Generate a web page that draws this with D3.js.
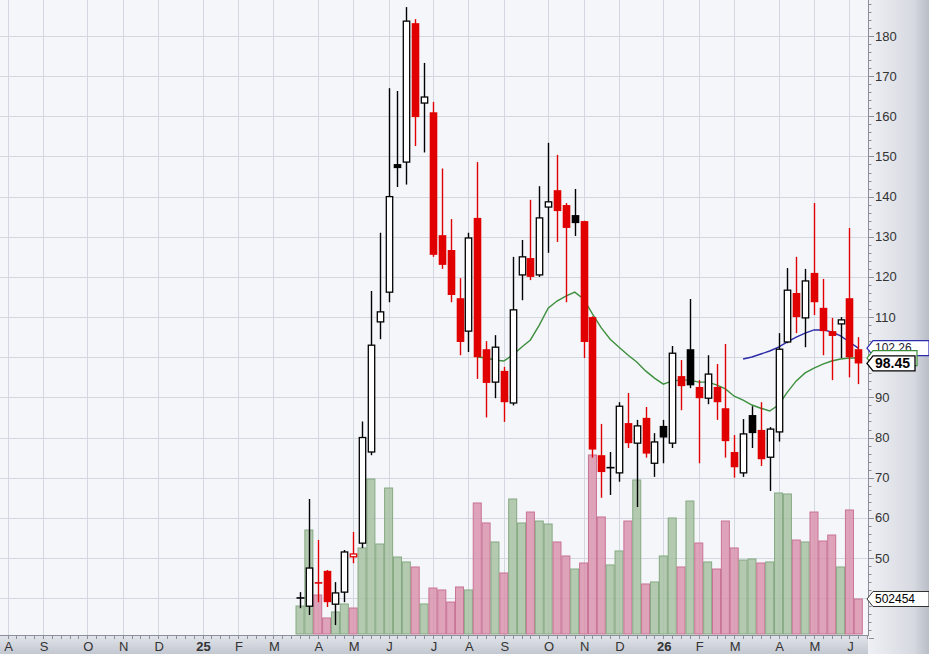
<!DOCTYPE html>
<html><head><meta charset="utf-8">
<script src="https://cdn.jsdelivr.net/npm/d3@7"></script>
<style>
body{margin:0;background:#fff}
svg{display:block}
text{font-family:Arial,"Liberation Sans",sans-serif}
</style>
</head><body>
<svg id="c" width="929" height="654"></svg>
<script>
// ---------- DATA ----------
const weeks = ["2025-03-24","2025-03-31","2025-04-07","2025-04-14","2025-04-21","2025-04-28",
"2025-05-05","2025-05-12","2025-05-19","2025-05-26","2025-06-02","2025-06-09","2025-06-16","2025-06-23","2025-06-30",
"2025-07-07","2025-07-14","2025-07-21","2025-07-28","2025-08-04","2025-08-11","2025-08-18","2025-08-25",
"2025-09-01","2025-09-08","2025-09-15","2025-09-22","2025-09-29","2025-10-06","2025-10-13","2025-10-20","2025-10-27",
"2025-11-03","2025-11-10","2025-11-17","2025-11-24","2025-12-01","2025-12-08","2025-12-15","2025-12-22","2025-12-29",
"2026-01-05","2026-01-12","2026-01-19","2026-01-26","2026-02-02","2026-02-09","2026-02-16","2026-02-23",
"2026-03-02","2026-03-09","2026-03-16","2026-03-23","2026-03-30","2026-04-06","2026-04-13","2026-04-20","2026-04-27",
"2026-05-04","2026-05-11","2026-05-18","2026-05-25","2026-06-01","2026-06-08"];
const open  = [40.0,38.0,44.0,46.8,38.5,41.5,50.3,53.7,76.4,108.8,116.2,148.1,148.6,183.2,163.3,161.0,130.4,126.7,114.7,106.5,
134.7,102.0,93.8,96.6,88.6,120.5,124.7,120.5,137.4,141.6,137.9,135.4,133.9,110.0,75.6,72.4,71.2,83.6,78.6,84.9,
73.6,82.9,78.6,95.3,102.0,92.6,89.8,92.6,87.3,76.4,71.2,85.6,81.9,75.1,81.4,103.8,116.0,109.8,121.0,112.3,
106.5,108.3,114.7,102.0];
const high  = [41.5,64.7,54.5,47.0,44.0,52.0,56.5,84.0,116.5,131.0,167.0,166.3,187.2,184.2,173.3,163.6,147.0,134.4,119.7,131.0,
148.6,104.0,105.5,97.6,125.0,129.2,139.2,142.6,153.4,150.4,138.4,141.9,134.0,110.2,83.4,76.4,88.8,91.1,84.4,87.6,
81.1,84.4,102.8,99.3,114.5,94.3,100.5,98.3,103.3,80.6,84.6,87.8,88.8,82.6,106.0,122.2,125.0,122.0,138.4,119.5,
109.8,110.0,132.2,105.0];
const low   = [37.5,35.8,39.0,37.8,33.3,39.0,48.7,52.5,75.6,104.5,113.7,142.4,143.0,152.6,151.0,125.0,122.0,113.7,100.5,101.3,
94.6,85.0,89.8,83.9,88.0,114.2,119.2,120.0,126.0,128.7,113.7,130.2,99.8,75.0,65.0,65.7,69.0,77.4,62.7,75.0,
70.2,73.6,77.4,86.8,92.3,73.6,88.3,84.4,75.0,70.0,70.2,77.4,72.9,66.7,79.0,103.5,106.0,102.5,110.5,100.5,
94.3,99.8,95.0,93.3];
const close = [40.1,47.5,43.6,39.0,41.3,51.5,51.0,80.0,103.0,111.3,140.0,147.1,183.7,159.8,164.8,125.5,123.0,115.5,103.8,129.7,
100.0,93.6,102.5,88.8,111.8,125.0,120.0,134.7,138.7,136.4,132.2,133.4,103.8,77.0,71.4,72.6,87.8,78.6,82.9,76.0,
78.9,80.0,101.0,92.8,93.0,89.8,95.8,88.8,79.1,72.6,80.9,81.1,74.6,82.1,102.0,116.7,110.0,119.0,113.7,106.5,
105.3,109.3,100.0,98.45];
const volume = [402000,1493000,560000,230000,316000,431000,373000,1235000,2225000,1292000,2096000,1105000,1034000,962000,431000,
660000,632000,459000,675000,632000,1881000,1594000,1321000,876000,1938000,1594000,1751000,1622000,1579000,1321000,
1120000,933000,1019000,2570000,1680000,991000,1192000,1622000,2211000,718000,747000,1120000,1665000,962000,1909000,
1306000,1034000,933000,1622000,1235000,1062000,1077000,1019000,1034000,2024000,2010000,1349000,1321000,1751000,1335000,
1421000,962000,1780000,502454];
// moving averages (green starts at week 21, blue at week 51)
const maGreen = [100.05,99.8,99.3,99.05,100.55,102.5,104.3,108.0,112.2,114.0,115.2,116.2,114.5,110.8,107.3,104.5,102.5,100.55,
98.8,96.6,94.8,93.3,94.1,94.3,94.3,93.8,93.8,93.1,92.1,90.3,89.3,88.1,87.3,86.6,88.1,91.3,94.1,96.1,97.3,98.3,99.05,99.55,99.8,99.8];
const maBlue = [99.55,100.05,100.8,101.55,102.5,103.8,105.0,106.0,106.8,106.8,106.3,105.3,103.8,102.26];
const greenStart = 20, blueStart = 50;
const monthLabels = ["A","S","O","N","D","25","F","M","A","M","J","J","A","S","O","N","D","26","F","M","A","M","J"];
const priceTicks = [50,60,70,80,90,100,110,120,130,140,150,160,170,180];
const lastClose = 98.45, lastGreen = 99.8, lastBlue = 102.26, lastVolume = 502454;

// ---------- LAYOUT ----------
const W = 929, H = 654, plotR = 868, plotB = 635;
const svg = d3.select("#c");
const parse = d3.timeParse("%Y-%m-%d");
const dates = weeks.map(parse);
const x = d3.scaleTime().domain([dates[0], dates[dates.length-1]]).range([300, 858.3]);
const y = d3.scaleLinear().domain([50,180]).range([558,36]);
const yv = d3.scaleLinear().domain([0, 3000000]).range([634, 634 - 3000000/14356]);

const defs = svg.append("defs");
const gR = defs.append("linearGradient").attr("id","gr").attr("x1",0).attr("x2",1).attr("y1",0).attr("y2",0);
gR.append("stop").attr("offset",0).attr("stop-color","#eef0f4");
gR.append("stop").attr("offset",0.75).attr("stop-color","#d6d9e0");
gR.append("stop").attr("offset",1).attr("stop-color","#b9bdc6");
const gB = defs.append("linearGradient").attr("id","gb").attr("x1",0).attr("x2",0).attr("y1",0).attr("y2",1);
gB.append("stop").attr("offset",0).attr("stop-color","#e2e5eb");
gB.append("stop").attr("offset",1).attr("stop-color","#c3c7d0");

svg.append("rect").attr("x",0).attr("y",0).attr("width",plotR).attr("height",plotB).attr("fill","#f4f6fa");

// grid
const grid = svg.append("g").attr("stroke","#d3d7df").attr("stroke-width",1);
const gridVals = d3.range(40,190,10);
grid.selectAll("line.h").data(gridVals).join("line")
  .attr("x1",0).attr("x2",plotR).attr("y1",d=>Math.round(y(d))+0.5).attr("y2",d=>Math.round(y(d))+0.5);
const months = d3.timeMonth.range(new Date(2024,7,1), new Date(2026,6,1));
const monthX = months.map(m => x(d3.timeMonday.ceil(m)));
grid.selectAll("line.v").data(monthX).join("line")
  .attr("y1",0).attr("y2",plotB).attr("x1",d=>Math.round(d)+0.5).attr("x2",d=>Math.round(d)+0.5);

// volume bars
const up = close.map((c,i)=> i===0 ? true : c >= close[i-1]);
svg.append("g").selectAll("rect").data(volume).join("rect")
  .attr("x",(d,i)=>x(dates[i])-4)
  .attr("width",8)
  .attr("y",d=>yv(d))
  .attr("height",d=>yv(0)-yv(d))
  .attr("fill",(d,i)=>up[i] ? "#a2bf9d" : "#d98fa9")
  .attr("fill-opacity",0.8)
  .attr("stroke",(d,i)=>up[i] ? "#86a982" : "#c87394")
  .attr("stroke-width",1);

// moving averages
const lineG = d3.line().x(d=>x(dates[d.i])).y(d=>y(d.v));
svg.append("path").datum(maGreen.map((v,k)=>({i:k+greenStart,v})))
  .attr("d",lineG).attr("fill","none").attr("stroke","#3d8f3d").attr("stroke-width",1.4);
svg.append("path").datum(maBlue.map((v,k)=>({i:k+blueStart,v})))
  .attr("d",lineG).attr("fill","none").attr("stroke","#2b2ba8").attr("stroke-width",1.4);

// candles
const RED = "#e00000";
const cg = svg.append("g");
dates.forEach((d,i)=>{
  const cx = Math.round(x(d)) + 0.5;
  const red = i>0 && close[i] < close[i-1];
  const hollow = close[i] > open[i];
  const col = red ? RED : "#000";
  const top = y(Math.max(open[i],close[i])), bot = y(Math.min(open[i],close[i]));
  cg.append("line").attr("x1",cx).attr("x2",cx).attr("y1",y(high[i])).attr("y2",y(low[i]))
    .attr("stroke",col).attr("stroke-width",1.4);
  if (bot - top < 1.5) {
    cg.append("line").attr("x1",cx-4).attr("x2",cx+4).attr("y1",(top+bot)/2).attr("y2",(top+bot)/2)
      .attr("stroke",col).attr("stroke-width",1.6);
  } else if (hollow) {
    cg.append("rect").attr("x",cx-3.2).attr("width",6.4).attr("y",top).attr("height",bot-top)
      .attr("fill","#fff").attr("stroke",col).attr("stroke-width",1.3);
  } else {
    cg.append("rect").attr("x",cx-3.8).attr("width",7.6).attr("y",top).attr("height",bot-top)
      .attr("fill",col);
  }
});

// right axis panel
svg.append("rect").attr("x",plotR).attr("y",0).attr("width",W-plotR).attr("height",H).attr("fill","url(#gr)");
svg.append("rect").attr("x",0).attr("y",plotB).attr("width",plotR).attr("height",H-plotB).attr("fill","url(#gb)");
svg.append("line").attr("x1",plotR+0.5).attr("x2",plotR+0.5).attr("y1",0).attr("y2",plotB+1).attr("stroke","#8a8f99");
svg.append("line").attr("x1",0).attr("x2",plotR+1).attr("y1",plotB+0.5).attr("y2",plotB+0.5).attr("stroke","#8a8f99");

// right axis ticks
const minor = d3.range(30,191,2);
svg.append("g").selectAll("line").data(minor).join("line")
  .attr("x1",plotR+1).attr("x2",d=> d%10===0 ? plotR+6 : plotR+3.5)
  .attr("y1",d=>Math.round(y(d))+0.5).attr("y2",d=>Math.round(y(d))+0.5)
  .attr("stroke","#8a8f99");
svg.append("g").selectAll("text").data(priceTicks).join("text")
  .attr("x",875).attr("y",d=>y(d)+4.5).text(d=>d)
  .attr("font-size",13).attr("fill","#333");

// bottom axis ticks
const allWeeks = d3.timeMonday.range(new Date(2024,6,29), new Date(2026,5,16));
svg.append("g").selectAll("line").data(allWeeks).join("line")
  .attr("x1",d=>Math.round(x(d))+0.5).attr("x2",d=>Math.round(x(d))+0.5)
  .attr("y1",plotB+1).attr("y2",plotB+4).attr("stroke","#8a8f99");
svg.append("g").selectAll("text").data(monthLabels).join("text")
  .attr("x",(d,i)=>monthX[i]+1).attr("y",651).attr("text-anchor","middle")
  .attr("font-size",13).attr("fill","#333")
  .attr("font-weight",d=>d.length>1 ? "bold" : "normal")
  .text(d=>d);

// value labels on the right axis
function tag(yc, txt, stroke, opts){
  const h = opts.h || 15, x0 = plotR - 1, w = opts.w;
  const p = `M${x0},${yc} L${x0+6},${yc-h/2} L${x0+w},${yc-h/2} L${x0+w},${yc+h/2} L${x0+6},${yc+h/2} Z`;
  svg.append("path").attr("d",p).attr("fill","#fff").attr("stroke",stroke).attr("stroke-width",opts.sw||1.2);
  if (txt) svg.append("text").attr("x",x0+8).attr("y",yc+ (opts.fs||12)*0.36)
    .attr("font-size",opts.fs||12).attr("font-weight",opts.fw||"normal").attr("fill",opts.fill||"#000").text(txt);
}
tag(y(lastBlue), d3.format(".2f")(lastBlue), "#2b2bb0", {w:62, fill:"#223", fs:12});
tag(y(lastGreen), "", "#3d8f3d", {w:50});
tag(y(lastClose), d3.format(".2f")(lastClose), "#000", {w:48, fs:14, fw:"bold", sw:1.3});
tag(yv(lastVolume), String(lastVolume), "#333", {w:62, fs:12, sw:1});
</script>
</body></html>
